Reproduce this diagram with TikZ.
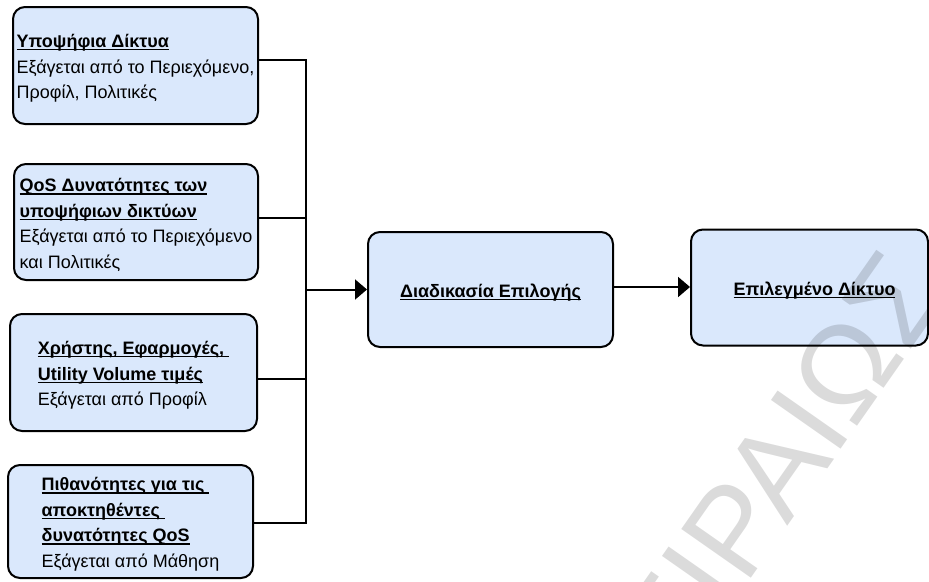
\documentclass[tikz,border=0pt]{standalone}
\usepackage{fontspec}
\setmainfont{Liberation Sans}
\usetikzlibrary{arrows.meta}
\definecolor{boxfill}{HTML}{DAE8FC}
% underlined text with a fixed rule just below the baseline
\newcommand{\ulbox}[1]{\leavevmode\setbox0=\hbox{#1}\rlap{\raisebox{-2.8pt}[0pt][0pt]{\rule{\wd0}{1.3pt}}}\box0}
% first-line strut that sets the top of each text block
\newcommand{\leadstrut}{\rule{0pt}{19pt}}

\begin{document}
\begin{tikzpicture}[x=1pt,y=-1pt,
  flowbox/.style={draw=black, line width=2pt, fill=boxfill, rounded corners=12pt,
    align=left, inner sep=0pt, font=\fontsize{18}{25.5}\selectfont},
  link/.style={line width=2pt},
  feed/.style={link, -{Triangle[length=12pt,width=20pt]}},
  stamp/.style={rotate=55, anchor=base west, inner sep=0pt, text=black,
    text opacity=0.14, font=\fontsize{123.5}{130}\selectfont},
]
\useasboundingbox (0,0) rectangle (929,581);
\fill[white] (0,0) rectangle (929,581);

% input boxes
\node[flowbox, minimum width=245pt, minimum height=117pt] (cand) at (135.5,65.5)
  {\leadstrut\textbf{\ulbox{Υποψήφια Δίκτυα}}\\Εξάγεται από το Περιεχόμενο,\\Προφίλ, Πολιτικές};
\node[flowbox, minimum width=244pt, minimum height=116pt] (qos) at (136,222)
  {\leadstrut\textbf{\ulbox{QoS Δυνατότητες των}}\\\textbf{\ulbox{υποψήφιων δικτύων}}\\Εξάγεται από το Περιεχόμενο\\και Πολιτικές};
\node[flowbox, minimum width=247pt, minimum height=117pt] (user) at (133.5,372.5)
  {\leadstrut\textbf{\ulbox{Χρήστης, Εφαρμογές,\ }}\\\textbf{\ulbox{Utility Volume τιμές}}\\Εξάγεται από Προφίλ};
\node[flowbox, minimum width=245pt, minimum height=113pt] (prob) at (130.5,521.5)
  {\leadstrut\textbf{\ulbox{Πιθανότητες για τις\ }}\\\textbf{\ulbox{αποκτηθέντες\ }}\\\textbf{\ulbox{δυνατότητες QoS}}\\Εξάγεται από Μάθηση};

% selection and result
\node[flowbox, minimum width=245pt, minimum height=115pt] (sel) at (490.5,289.5)
  {\leadstrut\textbf{\ulbox{Διαδικασία Επιλογής}}};
\node[flowbox, minimum width=237pt, minimum height=116pt] (chosen) at (809.5,287.5)
  {\leadstrut\hspace*{10pt}\textbf{\ulbox{Επιλεγμένο Δίκτυο}}};

% collecting bus
\coordinate (j1) at (306,60);
\coordinate (j2) at (306,218);
\coordinate (j3) at (306,379);
\coordinate (j4) at (306,523);
\coordinate (jm) at (306,289.5);
\coordinate (jr) at (650,287);

\draw[link] (cand.east |- j1) -- (j1) -- (j4) -- (prob.east |- j4);
\draw[link] (qos.east |- j2) -- (j2);
\draw[link] (user.east |- j3) -- (j3);
\draw[feed] (jm) -- (sel.west |- jm);
\draw[feed] (sel.east |- jr) -- (chosen.west |- jr);

% watermark
\begin{scope}
\clip (0,0) rectangle (929,581);
\node[stamp] (mark) at (627.4,754.8) {ΠΕΙΡΑΙΩΣ};
\end{scope}
\end{tikzpicture}
\end{document}
